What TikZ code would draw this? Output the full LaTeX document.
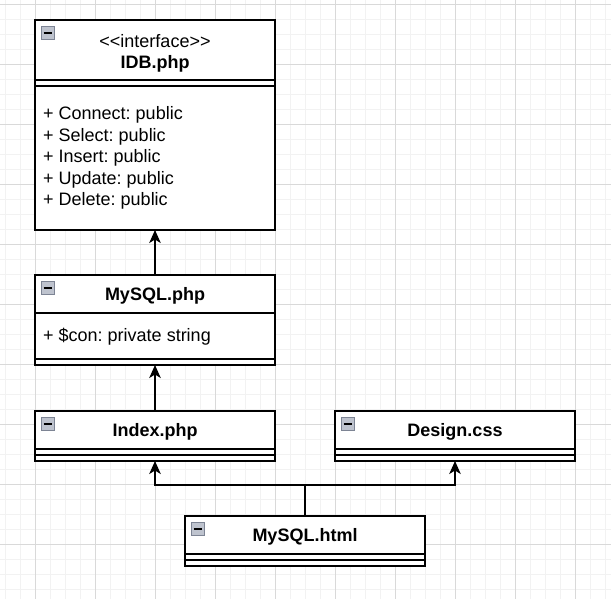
\documentclass[tikz,border=0pt]{standalone}
\usepackage{fontspec}
\setmainfont{Liberation Sans}
\usetikzlibrary{positioning}
\usetikzlibrary{arrows.meta}
\definecolor{gridminor}{RGB}{242,242,242}
\definecolor{gridmajor}{RGB}{217,217,217}
\definecolor{iconfill}{RGB}{190,195,206}
\definecolor{iconline}{RGB}{125,132,148}
\frenchspacing
\tikzset{
  head/.style={draw,line width=1.5pt,fill=white,minimum width=240pt,inner sep=0pt,outer sep=0pt,text height=13pt,text depth=0pt,font=\fontsize{18pt}{21.6pt}\selectfont\bfseries},
  part/.style={draw,line width=1.5pt,fill=white,minimum width=240pt,inner sep=0pt,outer sep=0pt},
  txt/.style={inner sep=0pt,anchor=base,font=\fontsize{18pt}{21.6pt}\selectfont},
  member/.style={txt,anchor=base west},
  collapse/.style={draw=iconline,fill=iconfill,line width=0.75pt,minimum size=13pt,inner sep=0pt,
    path picture={\draw[black,line width=2pt] ([xshift=2.5pt]path picture bounding box.west) -- ([xshift=-2.5pt]path picture bounding box.east);}},
  uses/.style={-{Stealth[length=13pt,width=11.5pt,inset=3.5pt]},line width=1.5pt}
}
\begin{document}
\begin{tikzpicture}[x=1pt,y=-1pt]
\useasboundingbox (0,0) rectangle (611,599);
% grid
\foreach \x in {5,20,...,605} \draw[gridminor,line width=1pt] (\x,0) -- (\x,599);
\foreach \y in {4.5,19.5,...,598} \draw[gridminor,line width=1pt] (0,\y) -- (611,\y);
\foreach \x in {35,95,...,575} \draw[gridmajor,line width=1pt] (\x,0) -- (\x,599);
\foreach \y in {4.5,64.5,...,544.5} \draw[gridmajor,line width=1pt] (0,\y) -- (611,\y);

% IDB.php
\node[head,minimum height=60pt] (idbhead) at (155,50) {};
\node[txt] (idbstereo) at (155,47.5) {<\kern0pt<interface>\kern0pt>};
\node[txt,font=\fontsize{18pt}{21.6pt}\selectfont\bfseries] (idbname) at (155,69) {IDB.php};
\node[part,minimum height=6pt,below=0pt of idbhead] (idbattr) {};
\node[part,minimum height=144pt,below=0pt of idbattr] (idbops) {};
\foreach \op [count=\i] in {Connect,Select,Insert,Update,Delete}
  \node[member] (op\i) at (43,{98.5+21.5*\i}) {+ \op: public};
\node[collapse] (idbicon) at ([xshift=12.5pt,yshift=-13pt]idbhead.north west) {};

% MySQL.php
\node[head,minimum height=38pt] (mysqlhead) at (155,294) {MySQL.php};
\node[part,minimum height=46pt,below=0pt of mysqlhead] (mysqlattr) {};
\node[part,minimum height=6pt,below=0pt of mysqlattr] (mysqlops) {};
\node[member] (con) at (43,341) {+ \$con: private string};
\node[collapse] (mysqlicon) at ([xshift=12.5pt,yshift=-12.5pt]mysqlhead.north west) {};

% Index.php
\node[head,minimum height=38pt] (indexhead) at (155,430) {Index.php};
\node[part,minimum height=6pt,below=0pt of indexhead] (indexattr) {};
\node[part,minimum height=6pt,below=0pt of indexattr] (indexops) {};
\node[collapse] (indexicon) at ([xshift=12.5pt,yshift=-12.5pt]indexhead.north west) {};

% Design.css
\node[head,minimum height=38pt] (designhead) at (455,430) {Design.css};
\node[part,minimum height=6pt,below=0pt of designhead] (designattr) {};
\node[part,minimum height=6pt,below=0pt of designattr] (designops) {};
\node[collapse] (designicon) at ([xshift=12.5pt,yshift=-12.5pt]designhead.north west) {};

% MySQL.html
\node[head,minimum height=38pt] (htmlhead) at (305,535) {MySQL.html};
\node[part,minimum height=6pt,below=0pt of htmlhead] (htmlattr) {};
\node[part,minimum height=6pt,below=0pt of htmlattr] (htmlops) {};
\node[collapse] (htmlicon) at ([xshift=12.5pt,yshift=-12.5pt]htmlhead.north west) {};

% connectors
\draw[uses] (mysqlhead.north) -- (idbops.south);
\draw[uses] (indexhead.north) -- (mysqlops.south);
\coordinate (fork) at ([yshift=31pt]htmlhead.north);
\draw[uses] (htmlhead.north) -- (fork) -| (indexops.south);
\draw[uses] (fork) -| (designops.south);
\end{tikzpicture}
\end{document}
